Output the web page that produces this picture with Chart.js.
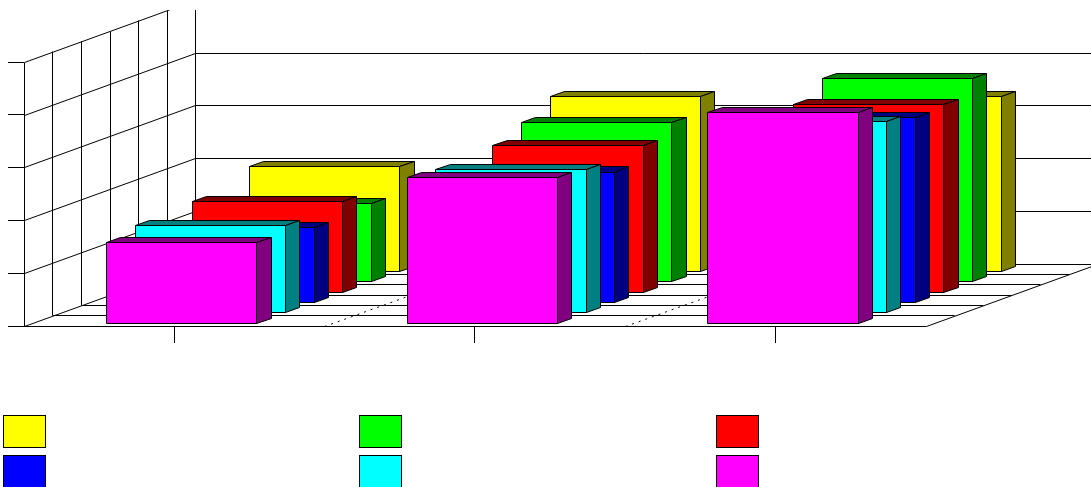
<!DOCTYPE html>
<html>
<head>
<meta charset="utf-8">
<title>3D bars</title>
<style>
  html, body { margin: 0; padding: 0; background: #fff; overflow: hidden; }
  canvas { display: block; }
</style>
<script src="https://cdn.jsdelivr.net/npm/chart.js@4/dist/chart.umd.min.js"></script>
</head>
<body>
<canvas id="chart" width="1091" height="487"></canvas>
<script>
// ===== Data =====
const categories = ['1', '2', '3'];
const seriesA = [2.00, 3.33, 3.32];
const seriesB = [1.49, 3.03, 3.86];
const seriesC = [1.72, 2.79, 3.56];
const seriesD = [1.43, 2.48, 3.52];
const seriesE = [1.66, 2.72, 3.64];
const seriesF = [1.53, 2.76, 4.00];

// Front face colour, then the darker colour for top and side
const faceColors = ['#ffff00', '#00ff00', '#ff0000', '#0000ff', '#00ffff', '#ff00ff'];
const shadeColors = ['#808000', '#008000', '#800000', '#000080', '#008080', '#800080'];

// ===== Depth setup =====
const depthX = 171.5;
const depthY = -62;
const wallTop = 10;

function crisp(v){
  return Math.round(v - 0.2) + 0.5;
}

function line(ctx, x1, y1, x2, y2){
  ctx.beginPath();
  ctx.moveTo(crisp(x1), crisp(y1));
  ctx.lineTo(crisp(x2), crisp(y2));
  ctx.stroke();
}

function poly(ctx, points, fill){
  ctx.beginPath();
  points.forEach((p, i) => {
    if(i === 0) ctx.moveTo(crisp(p[0]), crisp(p[1]));
    else ctx.lineTo(crisp(p[0]), crisp(p[1]));
  });
  ctx.closePath();
  ctx.fillStyle = fill;
  ctx.fill();
  ctx.stroke();
}

// Walls and floor, sheared back from the two axes
function drawWalls(chart){
  const ctx = chart.ctx;
  const area = chart.chartArea;
  const xScale = chart.scales.x;
  const yScale = chart.scales.y;
  const slots = chart.data.datasets.length;

  ctx.save();
  ctx.beginPath();
  ctx.rect(0, wallTop, chart.width, chart.height - wallTop);
  ctx.clip();
  ctx.strokeStyle = '#000';
  ctx.lineWidth = 1;

  yScale.ticks.forEach(tick => {
    const y = yScale.getPixelForValue(tick.value);
    line(ctx, area.left, y, area.left + depthX, y + depthY);
    line(ctx, area.left + depthX, y + depthY, area.right + depthX, y + depthY);
  });

  for(let i = 0; i <= slots; i++){
    const dx = depthX * i / slots;
    const dy = depthY * i / slots;
    line(ctx, area.left + dx, area.bottom + dy, area.left + dx, yScale.getPixelForValue(yScale.max) + dy);
    line(ctx, area.left + dx, area.bottom + dy, area.right + dx, area.bottom + dy);
  }
  line(ctx, area.right, area.bottom, area.right + depthX, area.bottom + depthY);

  // Dotted floor lines between the categories
  ctx.setLineDash([2, 5]);
  for(let i = 1; i < categories.length; i++){
    const x = (xScale.getPixelForValue(i - 1) + xScale.getPixelForValue(i)) / 2;
    line(ctx, x, area.bottom, x + depthX, area.bottom + depthY);
  }
  ctx.restore();
}

// One box: top and side first, front face over them
function drawBox(ctx, bar, slot, slotCount, face, shade){
  const stepX = depthX / slotCount;
  const stepY = depthY / slotCount;
  const offX = (slot + 0.25) * stepX;
  const offY = (slot + 0.25) * stepY;
  const dx = stepX / 2;
  const dy = stepY / 2;
  const left = bar.x - bar.width / 2 + offX;
  const right = bar.x + bar.width / 2 + offX;
  const top = bar.y + offY;
  const bottom = bar.base + offY;

  poly(ctx, [[left, top], [left + dx, top + dy], [right + dx, top + dy], [right, top]], shade);
  poly(ctx, [[right, top], [right + dx, top + dy], [right + dx, bottom + dy], [right, bottom]], shade);
  poly(ctx, [[left, top], [right, top], [right, bottom], [left, bottom]], face);
}

const depthBars = {
  id: 'depthBars',
  beforeDatasetsDraw(chart){
    const ctx = chart.ctx;
    const count = chart.data.datasets.length;
    drawWalls(chart);

    ctx.save();
    ctx.strokeStyle = '#000';
    ctx.lineWidth = 1;
    ctx.lineJoin = 'miter';
    // First dataset sits at the back of the floor
    chart.data.datasets.forEach((ds, index) => {
      chart.getDatasetMeta(index).data.forEach(bar => {
        drawBox(ctx, bar, count - 1 - index, count, ds.backgroundColor, ds.shadeColor);
      });
    });
    ctx.restore();
    return false;
  }
};

// Swatches in three columns below the plot
const swatchLegend = {
  id: 'swatchLegend',
  afterDraw(chart){
    const ctx = chart.ctx;
    ctx.save();
    ctx.strokeStyle = '#000';
    ctx.lineWidth = 1;
    chart.data.datasets.forEach((ds, index) => {
      const x = 3 + (index % 3) * 356.5;
      const y = 415 + Math.floor(index / 3) * 40;
      ctx.fillStyle = ds.backgroundColor;
      ctx.fillRect(Math.floor(x) + 0.5, y + 0.5, 42, 32);
      ctx.strokeRect(Math.floor(x) + 0.5, y + 0.5, 42, 32);
    });
    ctx.restore();
  }
};

const allSeries = [seriesA, seriesB, seriesC, seriesD, seriesE, seriesF];

new Chart(document.getElementById('chart').getContext('2d'), {
  type: 'bar',
  data: {
    labels: categories,
    datasets: allSeries.map((values, i) => ({
      label: 'Series ' + (i + 1),
      data: values,
      backgroundColor: faceColors[i],
      shadeColor: shadeColors[i],
      grouped: false,
      categoryPercentage: 1,
      barPercentage: 0.5
    }))
  },
  options: {
    responsive: false,
    animation: false,
    devicePixelRatio: 1,
    layout: { padding: { left: 8, right: 165.2, top: 62, bottom: 144 } },
    plugins: {
      legend: { display: false },
      tooltip: { enabled: false }
    },
    scales: {
      x: {
        grid: { offset: false, drawOnChartArea: false, tickLength: 17, tickColor: '#000', tickWidth: 1 },
        border: { color: '#000', width: 1 },
        ticks: { display: false }
      },
      y: {
        min: 0,
        max: 5,
        grid: { drawOnChartArea: false, tickLength: 16, tickColor: '#000', tickWidth: 1 },
        border: { display: false },
        ticks: { display: false, stepSize: 1 }
      }
    }
  },
  plugins: [depthBars, swatchLegend]
});
</script>
</body>
</html>
